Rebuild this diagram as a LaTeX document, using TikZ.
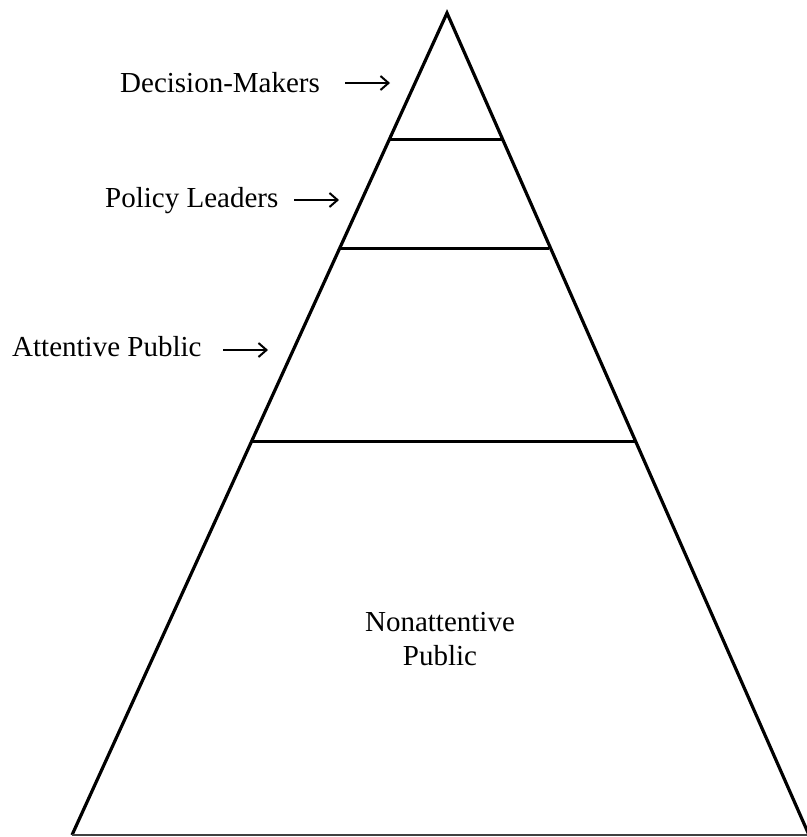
\documentclass[tikz,border=0pt]{standalone}
\usepackage{fontspec}
\setmainfont{Liberation Serif}
\usetikzlibrary{arrows.meta}
\begin{document}
\begin{tikzpicture}[x=1pt,y=-1pt,
  side/.style={line width=3.2pt, line join=miter},
  tier/.style={line width=3pt},
  ground/.style={line width=2pt, draw=black!75},
  lbl/.style={font=\fontsize{29}{34}\selectfont, inner sep=0pt},
  pointer/.style={line width=2.2pt, -{Straight Barb[length=8pt,width=14pt,line width=2pt]}}]
\useasboundingbox (0,0) rectangle (806,837);

% pyramid outline
\coordinate (apex) at (447,13);
\coordinate (bl) at (72,835);
\coordinate (br) at (809,835);
\draw[side] (bl) -- (apex) -- (br);
\draw[ground] (bl) -- (br);

% tier boundaries
\coordinate (t1l) at (390,140); \coordinate (t1r) at (503,140);
\coordinate (t2l) at (341,248); \coordinate (t2r) at (549,248);
\coordinate (t3l) at (252,441); \coordinate (t3r) at (635,441);
\draw[tier] (t1l) -- (t1r);
\draw[tier] (t2l) -- (t2r);
\draw[tier] (t3l) -- (t3r);

% labels
\node[lbl, anchor=base west] (dm) at (120,93) {Decision-Makers};
\node[lbl, anchor=base west] (pl) at (105,207) {Policy Leaders};
\node[lbl, anchor=base west] (ap) at (12,356) {Attentive Public};
\node[lbl, align=center] (np) at (440,639) {Nonattentive\\Public};

% pointers
\coordinate (dmA) at (345,83); \coordinate (dmB) at (390,83);
\coordinate (plA) at (294,200); \coordinate (plB) at (339,200);
\coordinate (apA) at (223,350); \coordinate (apB) at (268,350);
\draw[pointer] (dmA) -- (dmB);
\draw[pointer] (plA) -- (plB);
\draw[pointer] (apA) -- (apB);
\end{tikzpicture}
\end{document}
